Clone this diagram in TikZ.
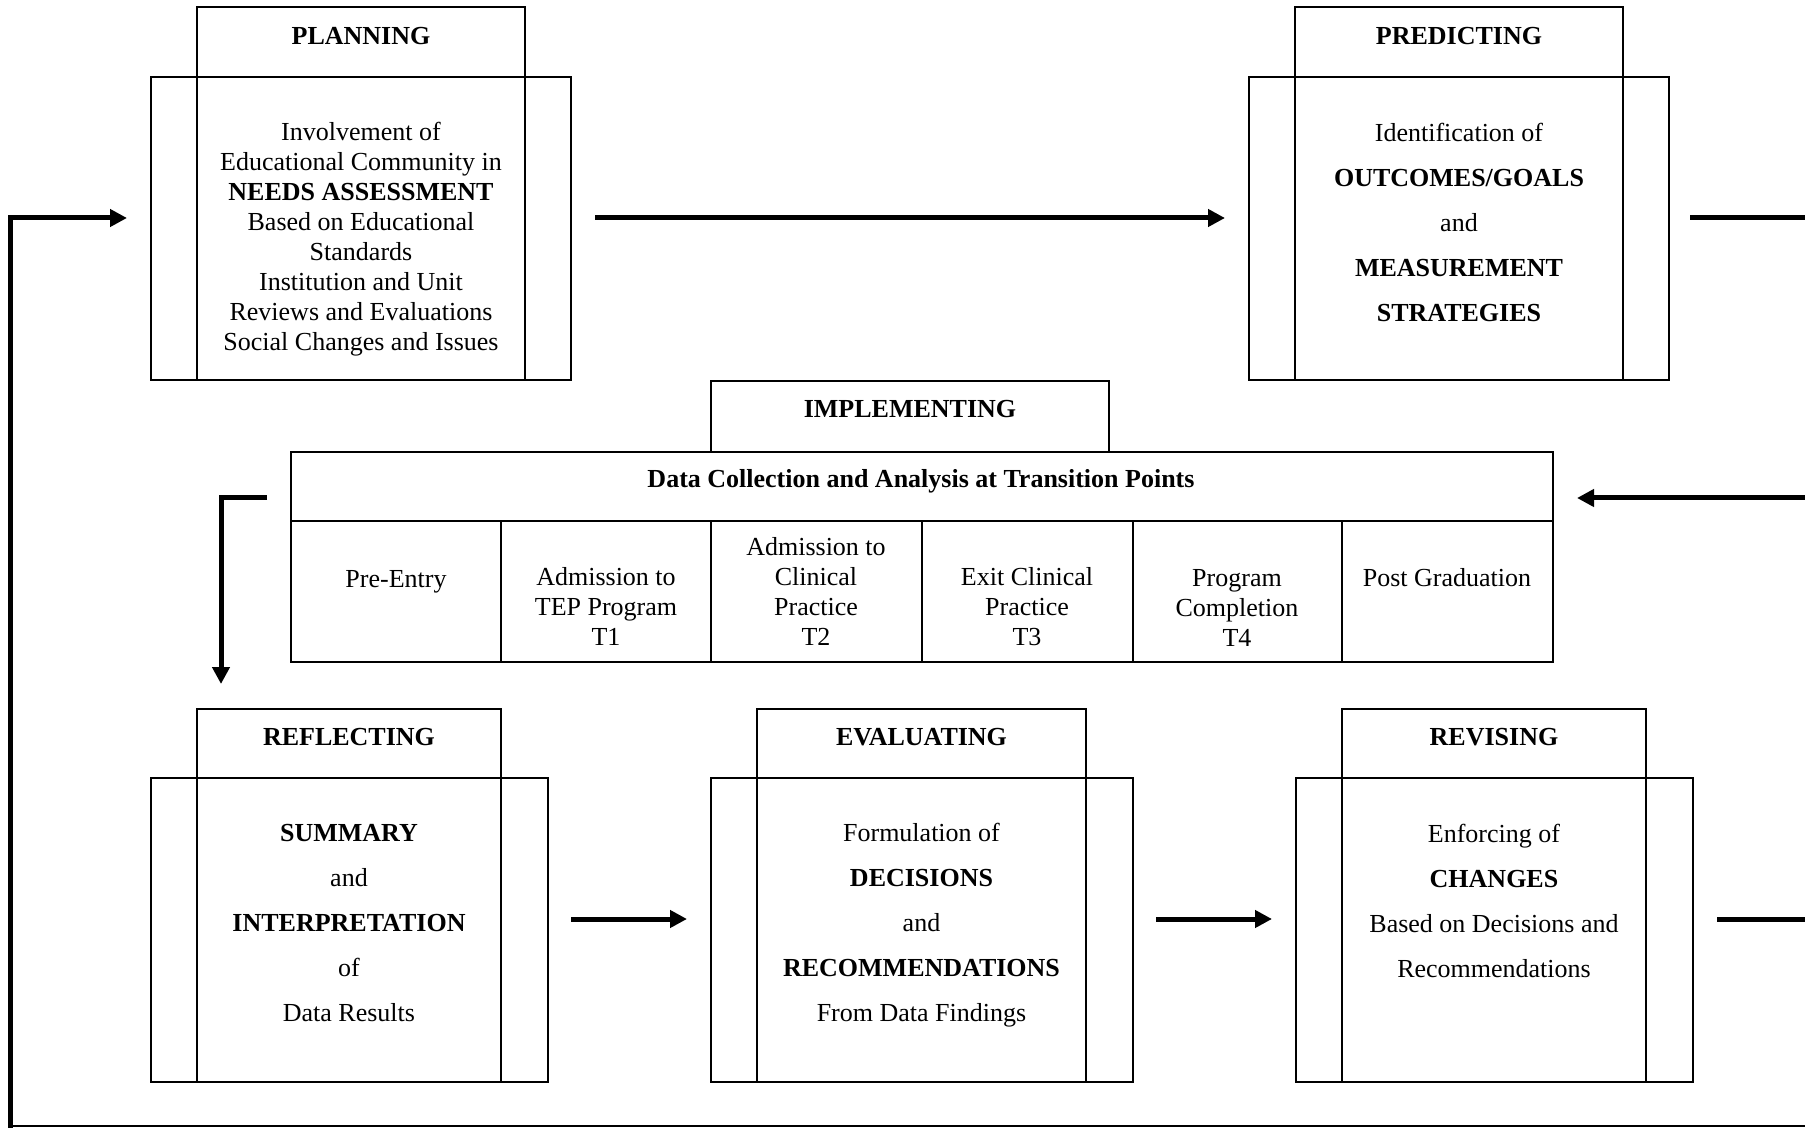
\documentclass[tikz,border=0pt]{standalone}
\usepackage{fontspec}
\setmainfont{Liberation Serif}
\usetikzlibrary{arrows.meta,fit}
\begin{document}
\begin{tikzpicture}[x=0.5pt,y=-0.5pt,
  box/.style={draw,line width=1pt,inner sep=0pt,fit={#1}},
  ttl/.style={font=\fontsize{13}{15}\selectfont\bfseries,inner sep=0pt},
  txt/.style={font=\fontsize{13}{15}\selectfont,align=center,inner sep=0pt},
  wide/.style={font=\fontsize{13}{22.5}\selectfont,align=center,inner sep=0pt},
  arr/.style={line width=2.5pt,-{Triangle[length=8.5pt,width=8.5pt]}},
  flow/.style={line width=2.5pt},
  thinline/.style={line width=1pt}]
\fill[white] (0,0) rectangle (1805,1128);
\useasboundingbox (0,0) rectangle (1805,1128);

% PLANNING
\node[box={(151,77)(571,380)}] (plan) {};
\node[box={(197,7)(525,380)}] (plancore) {};
\node[ttl] (planT) at (361,35.7) {PLANNING};
\node[txt] (planB) at (361,239.3) {Involvement of\\Educational Community in\\\textbf{NEEDS ASSESSMENT}\\Based on Educational\\Standards\\Institution and Unit\\Reviews and Evaluations\\Social Changes and Issues};

% PREDICTING
\node[box={(1249,77)(1669,380)}] (pred) {};
\node[box={(1295,7)(1623,380)}] (predcore) {};
\node[ttl] (predT) at (1459,35.7) {PREDICTING};
\node[wide] (predB) at (1459,222.7) {Identification of\\\textbf{OUTCOMES/GOALS}\\and\\\textbf{MEASUREMENT}\\\textbf{STRATEGIES}};

% IMPLEMENTING
\node[box={(711,381)(1109,452)}] (implT) {};
\node[ttl] (implL) at (910,408.7) {IMPLEMENTING};
\node[box={(291,452)(1553,662)}] (impl) {};
\draw[thinline] (291,521) -- (1553,521);
\foreach \x in {501,711,922,1133,1342} \draw[thinline] (\x,521) -- (\x,662);
\node[ttl] (implH) at (921,481.3) {Data Collection and Analysis at Transition Points};
\node[txt] (c1) at (396,581.5) {Pre-Entry};
\node[txt] (c2) at (606,606) {Admission to\\TEP Program\\T1};
\node[txt] (c3) at (816,591) {Admission to\\Clinical\\Practice\\T2};
\node[txt] (c4) at (1027,607) {Exit Clinical\\Practice\\T3};
\node[txt] (c5) at (1237,607.5) {Program\\Completion\\T4};
\node[txt] (c6) at (1447,578) {Post Graduation};

% REFLECTING
\node[box={(151,778)(548,1082)}] (refl) {};
\node[box={(197,709)(501,1082)}] (reflcore) {};
\node[ttl] (reflT) at (349,736.7) {REFLECTING};
\node[wide] (reflB) at (349,922.7) {\textbf{SUMMARY}\\and\\\textbf{INTERPRETATION}\\of\\Data Results};

% EVALUATING
\node[box={(711,778)(1133,1082)}] (eval) {};
\node[box={(757,709)(1086,1082)}] (evalcore) {};
\node[ttl] (evalT) at (921.5,736.7) {EVALUATING};
\node[wide] (evalB) at (921.5,925) {Formulation of\\\textbf{DECISIONS}\\and\\\textbf{RECOMMENDATIONS}\\From Data Findings};

% REVISING
\node[box={(1296,778)(1693,1082)}] (revi) {};
\node[box={(1342,709)(1646,1082)}] (revicore) {};
\node[ttl] (reviT) at (1494,736.7) {REVISING};
\node[wide] (reviB) at (1494,900.5) {Enforcing of\\\textbf{CHANGES}\\Based on Decisions and\\Recommendations};

% connector end points
\coordinate (p1) at (595,218);
\coordinate (p2) at (1225,218);
\coordinate (q1) at (1690,218);
\coordinate (q2) at (1820,218);
\coordinate (r1) at (1820,498);
\coordinate (r2) at (1577,498);
\coordinate (s1) at (267,498);
\coordinate (s2) at (221,498);
\coordinate (s3) at (221,684);
\coordinate (t1) at (571,919);
\coordinate (t2) at (687,919);
\coordinate (u1) at (1156,919);
\coordinate (u2) at (1272,919);
\coordinate (v1) at (1717,919);
\coordinate (v2) at (1820,919);
\coordinate (w1) at (1820,1126);
\coordinate (w2) at (10,1126);
\coordinate (w3) at (10,218);
\coordinate (w4) at (127,218);

\draw[arr] (p1) -- (p2);
\draw[flow] (q1) -- (q2);
\draw[arr] (r1) -- (r2);
\draw[arr] (s1) -- (s2) -- (s3);
\draw[arr] (t1) -- (t2);
\draw[arr] (u1) -- (u2);
\draw[flow] (v1) -- (v2);
\draw[thinline] (w1) -- (w2);
\draw[arr] ([yshift=-1pt]w2) -- (w3) -- (w4);
\end{tikzpicture}
\end{document}
